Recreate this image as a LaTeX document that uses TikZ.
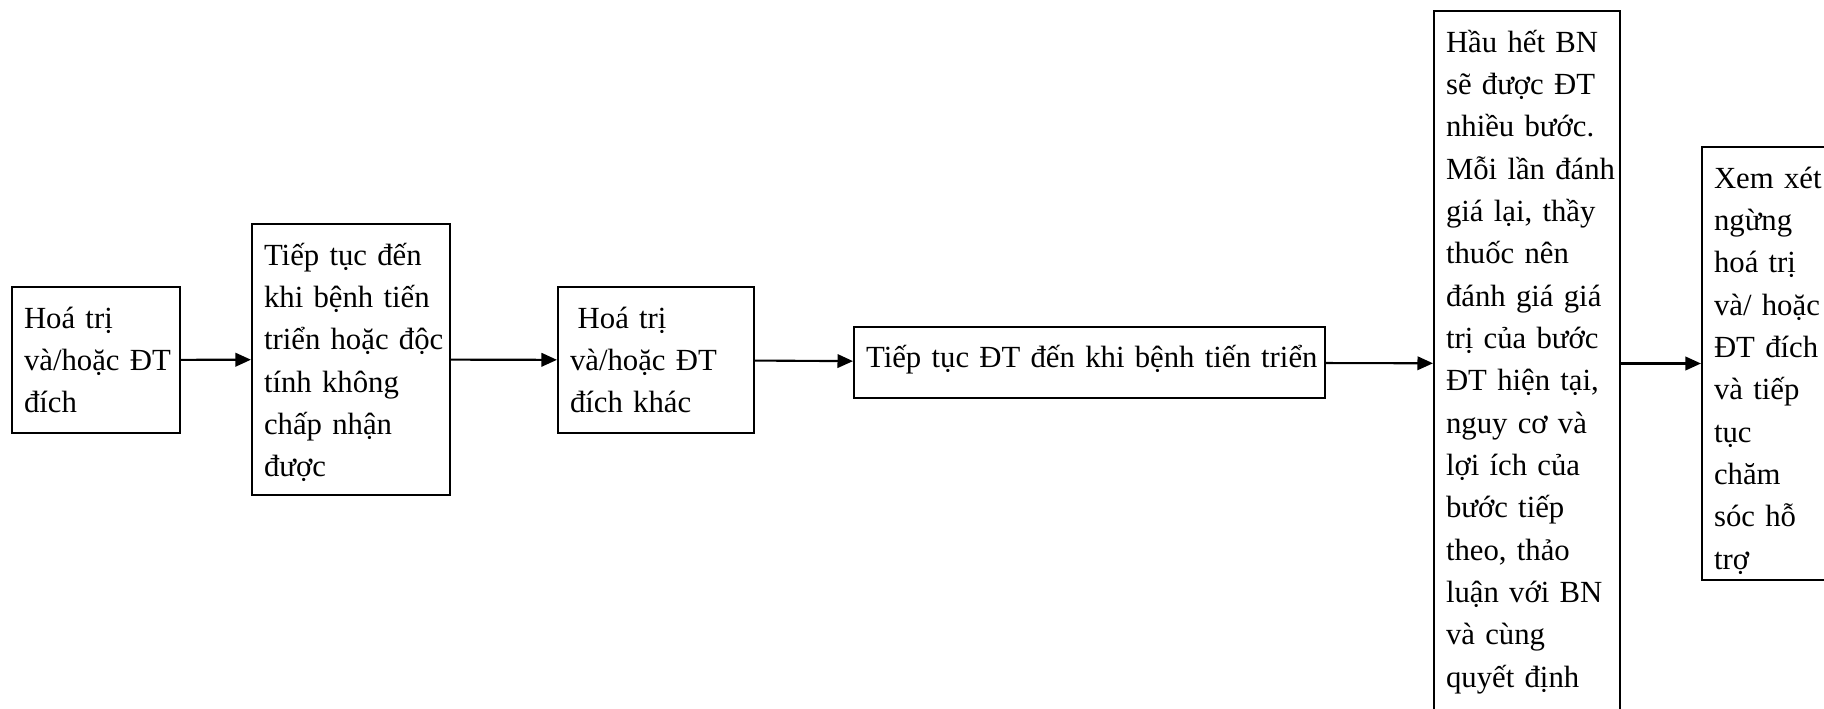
\documentclass[tikz,border=0pt]{standalone}
\usepackage{fontspec}
\setmainfont{Liberation Serif}
\usetikzlibrary{arrows.meta}

\begin{document}
\begin{tikzpicture}[x=0.02cm, y=-0.02cm,
  stepbox/.style={draw, line width=1.2pt, align=left, anchor=center,
    inner xsep=0.24cm, inner ysep=0.24cm, text height=0.58cm,
    font=\fontsize{17.5}{24.1}\selectfont},
  flow/.style={line width=1.2pt, -{Triangle[length=0.31cm, width=0.27cm]}}]

  % page frame; the last two boxes run past its edges
  \useasboundingbox (0,0) rectangle (1824,709);
  \clip (0,0) rectangle (1824,709);

  \node[stepbox, text width=2.88cm, text depth=1.86cm] (b1) at (96,360)
    {Hoá~trị\\và/hoặc~ĐT\\đích};

  \node[stepbox, text width=3.48cm, text depth=4.36cm] (b2) at (351,359.5)
    {Tiếp~tục~đến\\khi~bệnh~tiến\\triển~hoặc~độc\\tính~không\\chấp~nhận\\được};

  \node[stepbox, text width=3.44cm, text depth=1.86cm] (b3) at (656,360)
    {\hspace*{0.25em}Hoá~trị\\và/hoặc~ĐT\\đích~khác};

  \node[stepbox, text width=8.94cm, text depth=0.36cm] (b4) at (1089.5,362.5)
    {Tiếp~tục~ĐT~đến~khi~bệnh~tiến~triển};

  \node[stepbox, text width=3.24cm, text depth=13.04cm] (b5) at (1527,363.5)
    {Hầu~hết~BN\\sẽ~được~ĐT\\nhiều~bước.\\Mỗi~lần~đánh\\giá~lại,~thầy\\thuốc~nên\\đánh~giá~giá\\trị~của~bước\\ĐT~hiện~tại,\\nguy~cơ~và\\lợi~ích~của\\bước~tiếp\\theo,~thảo\\luận~với~BN\\và~cùng\\quyết~định};

  \node[stepbox, text width=2.48cm, text depth=7.60cm] (b6) at (1776,363.5)
    {Xem~xét\\ngừng\\hoá~trị\\và/~hoặc\\ĐT~đích\\và~tiếp\\tục\\chăm\\sóc~hỗ\\trợ};

  \draw[flow] (b1) -- (b2);
  \draw[flow] (b2) -- (b3);
  \draw[flow] (b3) -- (b4);
  \draw[flow] (b4) -- (b5);
  \draw[flow] (b5) -- (b6);
\end{tikzpicture}
\end{document}
